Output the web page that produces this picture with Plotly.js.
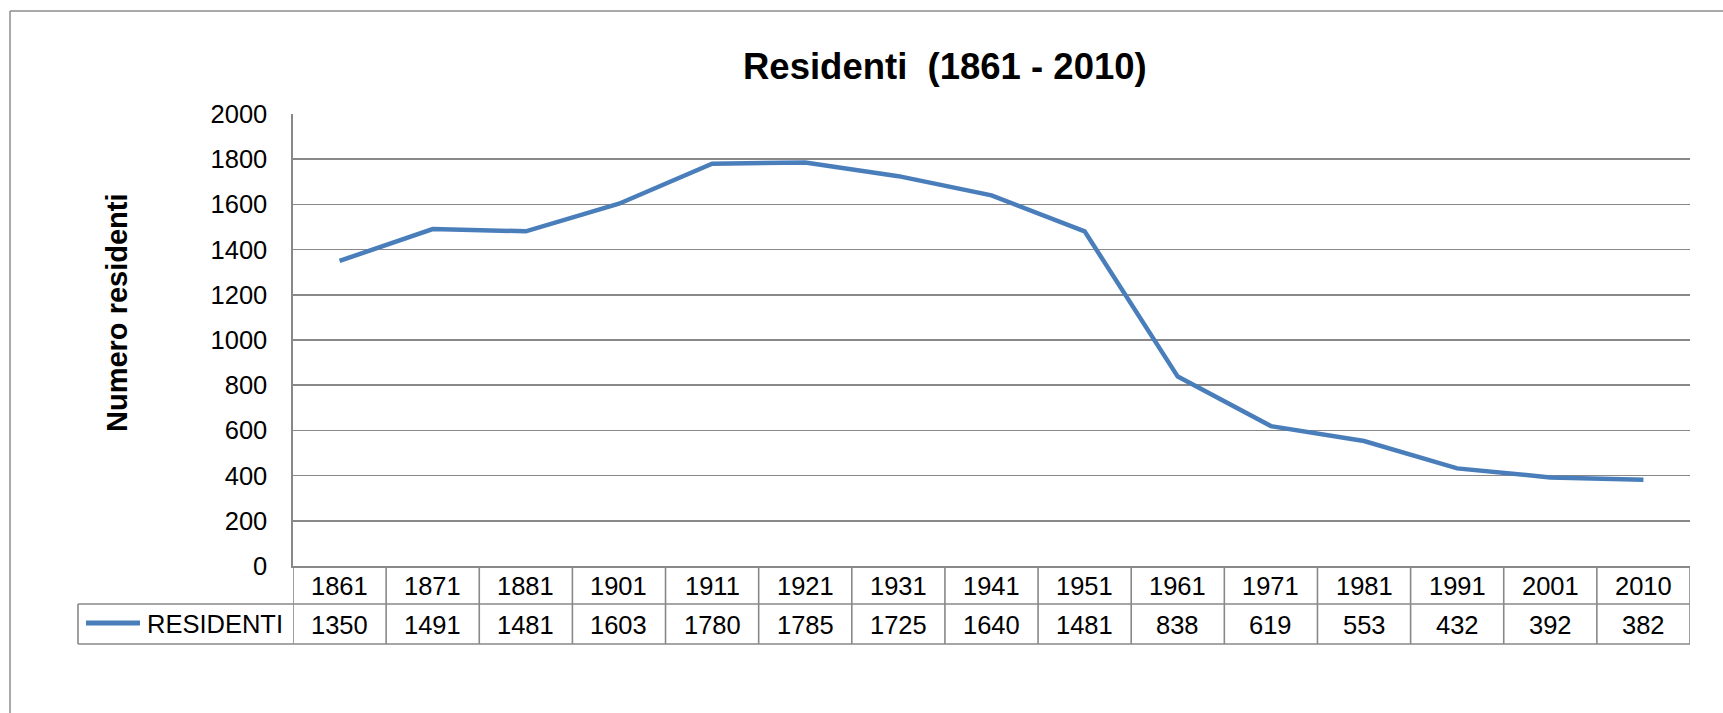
<!DOCTYPE html>
<html>
<head>
<meta charset="utf-8">
<script src="https://cdn.plot.ly/plotly-3.0.1.min.js"></script>
<style>html,body{margin:0;padding:0;background:#fff;}#chart{width:1723px;height:713px;}</style>
</head>
<body>
<div id="chart"></div>
<script>
// ---- data ----
const years = ["1861","1871","1881","1901","1911","1921","1931","1941","1951","1961","1971","1981","1991","2001","2010"];
const residents = [1350,1491,1481,1603,1780,1785,1725,1640,1481,838,619,553,432,392,382];
const seriesName = "RESIDENTI";
const chartTitle = "Residenti  (1861 - 2010)";
const yTitle = "Numero residenti";
const yTicks = [0,200,400,600,800,1000,1200,1400,1600,1800,2000];

// ---- layout geometry (pixels) ----
const W = 1723, H = 713;
const L = 293, R = 1690, T = 114, B = 566;
const pw = R - L, ph = B - T;
const px = x => (x - L) / pw;        // pixel x -> paper
const py = y => (B - y) / ph;        // pixel y -> paper
const row1Bottom = 604, row2Bottom = 644, legLeft = 78;
const gridCol = "#888888";
const blue = "#4A7EBB";
const font = "Liberation Sans, Arial, sans-serif";

const shapes = [];
const annotations = [];

// outer chart border (left and top edges visible)
shapes.push({type:"line", xref:"paper", yref:"paper", x0:px(10), x1:px(W+20), y0:py(11), y1:py(11), line:{color:"#8c8c8c", width:1.5}});
shapes.push({type:"line", xref:"paper", yref:"paper", x0:px(10), x1:px(10), y0:py(11), y1:py(H+20), line:{color:"#8c8c8c", width:1.5}});

// data table lines
const n = years.length;
for (let i = 0; i <= n; i++) {
  shapes.push({type:"line", xref:"x", yref:"paper", x0:i-0.5, x1:i-0.5, y0:py(B), y1:py(row2Bottom), line:{color:gridCol, width:1.6}});
}
shapes.push({type:"line", xref:"paper", yref:"paper", x0:px(legLeft), x1:px(legLeft), y0:py(row1Bottom), y1:py(row2Bottom), line:{color:gridCol, width:1.6}});
shapes.push({type:"line", xref:"paper", yref:"paper", x0:px(legLeft), x1:1, y0:py(row1Bottom), y1:py(row1Bottom), line:{color:gridCol, width:1.6}});
shapes.push({type:"line", xref:"paper", yref:"paper", x0:px(legLeft), x1:1, y0:py(row2Bottom), y1:py(row2Bottom), line:{color:gridCol, width:1.6}});
// legend key
shapes.push({type:"line", xref:"paper", yref:"paper", x0:px(86), x1:px(140), y0:py(623), y1:py(623), line:{color:blue, width:5}});

// table texts
years.forEach((yr, i) => {
  annotations.push({xref:"x", yref:"paper", x:i, y:py((B+row1Bottom)/2 + 1), text:yr, showarrow:false, xanchor:"center", yanchor:"middle", font:{family:font, size:25.5, color:"#000"}});
  annotations.push({xref:"x", yref:"paper", x:i, y:py((row1Bottom+row2Bottom)/2 + 1), text:String(residents[i]), showarrow:false, xanchor:"center", yanchor:"middle", font:{family:font, size:25.5, color:"#000"}});
});
annotations.push({xref:"paper", yref:"paper", x:px(285), y:py(624), text:seriesName, showarrow:false, xanchor:"right", yanchor:"middle", font:{family:font, size:25.5, color:"#000"}});

// titles
annotations.push({xref:"paper", yref:"paper", x:px(945), y:py(66), text:"<b>"+chartTitle+"</b>", showarrow:false, xanchor:"center", yanchor:"middle", font:{family:font, size:36.5, color:"#000"}});
annotations.push({xref:"paper", yref:"paper", x:px(117), y:py(313), text:"<b>"+yTitle+"</b>", textangle:-90, showarrow:false, xanchor:"center", yanchor:"middle", font:{family:font, size:29, color:"#000"}});

const trace = {
  type:"scatter", mode:"lines", x:years, y:residents, name:seriesName,
  line:{color:blue, width:4.5}, hoverinfo:"x+y"
};

const layout = {
  width:W, height:H,
  margin:{l:L, r:W-R, t:T, b:H-B, pad:0},
  paper_bgcolor:"#fff", plot_bgcolor:"#fff",
  showlegend:false,
  font:{family:font, size:25, color:"#000"},
  xaxis:{type:"category", range:[-0.5, n-0.5], showticklabels:false, showgrid:false, zeroline:false, showline:true, linecolor:gridCol, linewidth:1.6, ticks:"", fixedrange:true},
  yaxis:{range:[0,2000], tickvals:yTicks, ticktext:yTicks.map(String), showgrid:true, gridcolor:gridCol, gridwidth:1.6, zeroline:false, showline:true, linecolor:gridCol, linewidth:1.6, ticks:"", ticklabelstandoff:19, tickfont:{family:font, size:25.5, color:"#000"}, fixedrange:true},
  shapes:shapes,
  annotations:annotations
};

Plotly.newPlot("chart", [trace], layout, {displayModeBar:false, staticPlot:true});
</script>
</body>
</html>
